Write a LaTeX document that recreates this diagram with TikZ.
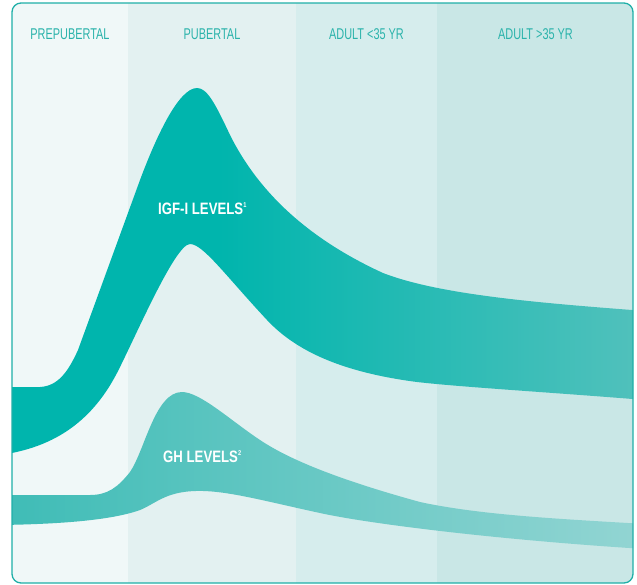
\documentclass[tikz,border=0pt]{standalone}
\usepackage{fontspec}
\setmainfont{Liberation Sans}
\newfontfamily\headfont[FakeStretch=0.70]{Liberation Sans}
\newfontfamily\labfont[FakeStretch=0.80]{Liberation Sans}
\definecolor{colA}{HTML}{F0F8F8}
\definecolor{colB}{HTML}{E3F1F1}
\definecolor{colC}{HTML}{D6EDED}
\definecolor{colD}{HTML}{C9E7E6}
\definecolor{frameC}{HTML}{1FAFA8}
\definecolor{headC}{HTML}{2BB3AB}
\definecolor{igfA}{HTML}{00B5AD}
\definecolor{igfB}{HTML}{52C1BC}
\definecolor{ghA}{HTML}{3EBCB6}
\definecolor{ghB}{HTML}{93D5D3}
\pgfdeclarehorizontalshading{igfsh}{100bp}{color(0bp)=(igfA); color(25bp)=(igfA); color(42bp)=(igfA); color(75bp)=(igfB); color(100bp)=(igfB)}
\tikzset{
  headtxt/.style={text=headC, font=\headfont\fontsize{15.6}{16}\selectfont, inner sep=0pt},
  labtxt/.style={text=white, font=\labfont\bfseries\fontsize{16.5}{17}\selectfont, inner sep=0pt, anchor=base west},
  framebox/.style={draw=frameC, line width=1.3pt, rounded corners=9pt},
}
\newcommand{\supr}[1]{\raisebox{0.42em}{\fontsize{7}{7}\selectfont #1}}
\begin{document}
\begin{tikzpicture}[x=1pt,y=-1pt]
\useasboundingbox (0,0) rectangle (637,584);
\begin{scope}
  \clip[rounded corners=9pt] (12,3) rectangle (633,583);
  \fill[colA] (0,0) rectangle (128,590);
  \fill[colB] (128,0) rectangle (296,590);
  \fill[colC] (296,0) rectangle (437,590);
  \fill[colD] (437,0) rectangle (640,590);
  % IGF-I band
  \shade[shading=igfsh]
    (0,387) -- (40,387)
    .. controls (58,386) and (68,372) .. (78,350)
    -- (140,180)
    .. controls (155,140) and (178,88) .. (197,88)
    .. controls (207,88) and (215,103) .. (230,135)
    .. controls (255,185) and (300,235) .. (383,273)
    .. controls (440,295) and (540,303) .. (645,311)
    -- (645,400)
    .. controls (560,393) and (460,387) .. (417,382)
    .. controls (340,372) and (295,350) .. (267,320)
    .. controls (225,275) and (203,244) .. (190,244)
    .. controls (175,244) and (135,338) .. (117,373)
    .. controls (90,425) and (50,448) .. (0,455)
    -- cycle;
  % GH band
  \shade[left color=ghA, right color=ghB]
    (0,495) -- (90,495)
    .. controls (108,495) and (118,487) .. (130,472)
    .. controls (145,450) and (155,392) .. (182,392)
    .. controls (200,392) and (230,420) .. (260,440)
    .. controls (290,460) and (340,480) .. (420,502)
    .. controls (480,515) and (560,519) .. (645,524)
    -- (645,549)
    .. controls (500,540) and (370,524) .. (320,513)
    .. controls (260,500) and (225,490) .. (195,491)
    .. controls (165,492) and (155,504) .. (140,510)
    .. controls (115,519) and (70,524) .. (0,525)
    -- cycle;
\end{scope}
\draw[framebox] (12,3) rectangle (633,583);
% headers
\node[headtxt] (h1) at (70,34) {PREPUBERTAL};
\node[headtxt] (h2) at (212,34) {PUBERTAL};
\node[headtxt] (h3) at (366.5,34) {ADULT <35 YR};
\node[headtxt] (h4) at (535.5,34) {ADULT >35 YR};
% labels
\node[labtxt] (igf) at (158,214) {IGF-I LEVELS\supr{1}};
\node[labtxt] (gh) at (163,462) {GH LEVELS\supr{2}};
\end{tikzpicture}
\end{document}
